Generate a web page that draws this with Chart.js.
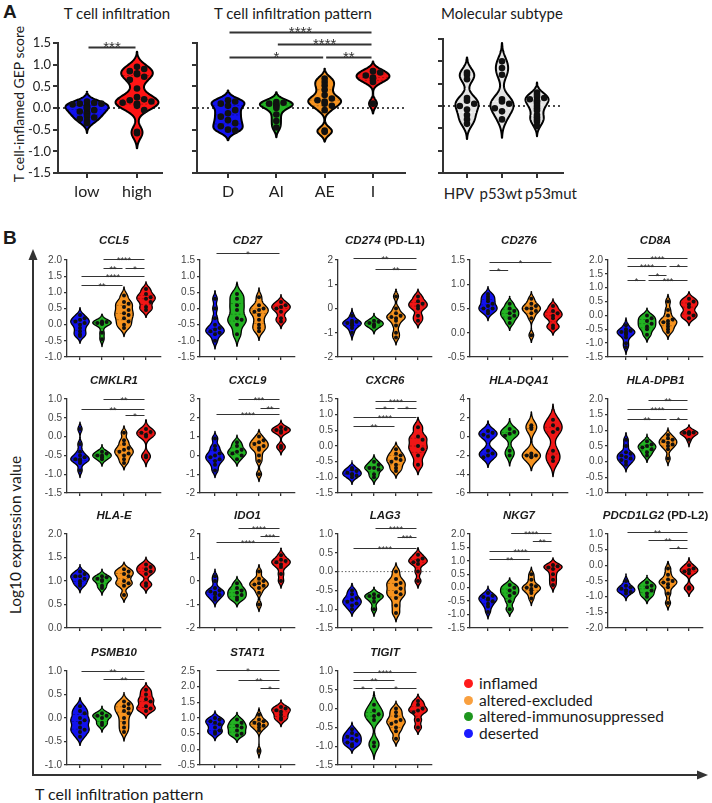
<!DOCTYPE html>
<html>
<head>
<meta charset="utf-8">
<title>T cell infiltration violins</title>
<script src="https://cdn.jsdelivr.net/npm/chart.js@4.4.1/dist/chart.umd.min.js"></script>
<style>
  html, body { margin: 0; padding: 0; background: #fff; }
  body { position: relative; width: 712px; height: 803px; overflow: hidden; font-family: Lato, "Open Sans", sans-serif; color: #1a1a1a; }
  canvas { position: absolute; }
  .lbl { position: absolute; white-space: nowrap; }
  .panel { font-family: "Liberation Sans", Arial, sans-serif; font-weight: bold; font-size: 19px; }
  .head { font-size: 15px; transform: translate(-50%, -50%); }
  .cat { font-size: 15px; color: #222; transform: translate(-50%, -50%); }
  .gene { font-family: "Liberation Sans", Arial, sans-serif; font-weight: bold; font-size: 11.5px; transform: translate(-50%, -50%); }
  .rot { transform: translate(-50%, -50%) rotate(-90deg); }
  .legend { position: absolute; left: 464px; top: 675px; font-size: 15.5px; line-height: 16.7px; }
  .legend span { display: inline-block; width: 9px; height: 9px; border-radius: 50%; margin-right: 6px; vertical-align: 1px; }
</style>
</head>
<body>
<svg width="712" height="803" style="position:absolute;left:0;top:0">
  <line x1="33" y1="776" x2="33" y2="258" stroke="#333" stroke-width="2"/>
  <polygon points="33,249 28.5,260 37.5,260" fill="#333"/>
  <line x1="32" y1="775" x2="699" y2="775" stroke="#333" stroke-width="2"/>
  <polygon points="708,775 697,770.5 697,779.5" fill="#333"/>
</svg>

<div class="lbl panel" style="left:3px;top:1px">A</div>
<div class="lbl panel" style="left:3px;top:227px">B</div>
<div class="lbl head" style="left:117px;top:13px">T cell infiltration</div>
<div class="lbl head" style="left:293px;top:13px">T cell infiltration pattern</div>
<div class="lbl head" style="left:502px;top:13px">Molecular subtype</div>
<div class="lbl rot" style="left:18px;top:104px;font-size:14px">T cell-inflamed GEP score</div>
<div class="lbl rot" style="left:15px;top:535px;font-size:15.5px">Log10 expression value</div>
<div class="lbl" style="left:35px;top:784px;font-size:16px">T cell infiltration pattern</div>
<div class="lbl cat" style="left:459px;top:193px">HPV</div>
<div class="lbl cat" style="left:501px;top:193px">p53wt</div>
<div class="lbl cat" style="left:551px;top:193px">p53mut</div>

<div class="legend">
  <div><span style="background:#ff1a1a"></span>inflamed</div>
  <div><span style="background:#f9a03f"></span>altered-excluded</div>
  <div><span style="background:#1e961e"></span>altered-immunosuppressed</div>
  <div><span style="background:#1a1aff"></span>deserted</div>
</div>

<script>
// ---- panel A data: T cell-inflamed GEP score ----
const infiltrationLabels = ['low', 'high'];
const gepLow = [0.15, 0.12, 0.1, 0.1, 0.08, 0.05, 0.05, 0.02, 0.0, -0.02, -0.05, -0.08, -0.1, -0.12, -0.15, -0.2, -0.22, -0.25, -0.3, -0.35];
const gepHigh = [0.95, 0.9, 0.85, 0.8, 0.78, 0.72, 0.65, 0.45, 0.25, 0.2, 0.18, 0.15, 0.12, 0.1, 0.08, 0.05, -0.05, -0.55, -0.58];
const sigInfiltration = [[0, 1, 1.41, '***']];

const patternLabels = ['D', 'AI', 'AE', 'I'];
const gepD = [0.18, 0.15, 0.1, 0.05, -0.05, -0.12, -0.2, -0.28, -0.35, -0.42, -0.5, -0.52];
const gepAI = [0.14, 0.12, 0.1, 0.08, 0.05, 0.0, -0.15, -0.3, -0.45];
const gepAE = [0.68, 0.6, 0.52, 0.42, 0.3, 0.22, 0.18, 0.15, 0.1, 0.05, -0.05, -0.52, -0.55];
const gepI = [0.85, 0.82, 0.75, 0.7, 0.68, 0.6, 0.1];
const sigPattern = [[0, 3, 1.75, '****'], [1, 3, 1.48, '****'], [0, 2, 1.18, '*'], [2, 3, 1.18, '**']];

const subtypeLabels = ['HPV', 'p53wt', 'p53mut'];
const gepHPV = [0.75, 0.7, 0.6, 0.18, 0.12, 0.05, 0.0, -0.08, -0.2, -0.3, -0.4];
const gepP53wt = [1.0, 0.85, 0.7, 0.15, 0.1, 0.05, -0.05, -0.12, -0.3];
const gepP53mut = [0.3, 0.25, 0.2, 0.18, 0.15, 0.12, 0.1, 0.05, 0.0, -0.05, -0.1, -0.2, -0.25, -0.3, -0.35, -0.45];

// ---- panel B data: log10 expression per pattern [D, AI, AE, I] ----
const CCL5 = [[0.3, 0.2, 0.15, 0.1, 0.05, 0.0, -0.1, -0.2, -0.3, -0.35], [0.1, 0.08, 0.05, 0.05, 0.02, -0.25, -0.45], [0.9, 0.7, 0.65, 0.55, 0.45, 0.35, 0.3, 0.2, 0.1, 0.0, -0.1], [1.1, 0.95, 0.85, 0.8, 0.7, 0.55, 0.45]];
const CD27 = [[0.3, 0.0, -0.3, -0.5, -0.6, -0.65, -0.7, -0.75, -0.8, -1.0], [0.45, 0.3, 0.1, -0.05, -0.3, -0.35, -0.5, -0.8], [0.35, 0.1, 0.0, -0.05, -0.1, -0.2, -0.35, -0.5, -0.6, -0.7], [0.2, 0.1, 0.05, 0.0, -0.1, -0.3, -0.4]];
const CD274 = [[-0.3, -0.5, -0.55, -0.6, -0.6, -0.65, -0.7, -0.8, -1.0], [-0.5, -0.55, -0.6, -0.65, -0.7, -0.75], [0.5, 0.0, -0.2, -0.3, -0.35, -0.4, -0.5, -0.7, -1.0, -1.2], [0.5, 0.3, 0.2, 0.1, 0.0, -0.3, -0.5]];
const CD276 = [[0.8, 0.75, 0.7, 0.65, 0.6, 0.55, 0.5, 0.5, 0.45, 0.4], [0.6, 0.5, 0.45, 0.4, 0.35, 0.3, 0.2], [0.7, 0.6, 0.55, 0.5, 0.5, 0.45, 0.4, 0.3, -0.05], [0.55, 0.45, 0.4, 0.35, 0.3, 0.15, 0.1]];
const CD8A = [[-0.35, -0.5, -0.55, -0.6, -0.6, -0.65, -0.7, -0.8, -1.0, -1.15], [0.0, -0.1, -0.2, -0.3, -0.4, -0.5, -0.7], [0.5, 0.2, 0.0, -0.15, -0.2, -0.25, -0.3, -0.4, -0.5, -0.6], [0.6, 0.5, 0.4, 0.3, 0.1, 0.0, -0.1]];
const CMKLR1 = [[0.2, -0.2, -0.4, -0.5, -0.55, -0.6, -0.6, -0.65, -0.7, -0.9], [-0.4, -0.45, -0.5, -0.5, -0.55, -0.6], [0.1, -0.1, -0.2, -0.3, -0.35, -0.4, -0.45, -0.5, -0.6, -0.7], [0.2, 0.12, 0.1, 0.05, 0.0, -0.5, -0.55]];
const CXCL9 = [[0.9, 0.5, 0.3, 0.1, 0.0, -0.1, -0.2, -0.3, -0.5, -0.8], [0.7, 0.5, 0.3, 0.2, 0.1, 0.0, -0.2], [1.0, 0.8, 0.7, 0.6, 0.5, 0.4, 0.3, 0.0, -0.3, -1.0], [1.5, 1.4, 1.35, 1.3, 1.2, 0.5, 0.4]];
const CXCR6 = [[-0.7, -0.75, -0.8, -0.85, -0.9, -0.9, -0.95, -1.0], [-0.5, -0.6, -0.7, -0.7, -0.75, -0.9, -1.0], [-0.1, -0.25, -0.3, -0.4, -0.45, -0.5, -0.6, -0.7, -0.8], [0.6, 0.3, 0.2, 0.0, -0.1, -0.3, -0.6]];
const HLA_DQA1 = [[0.6, 0.4, 0.2, 0.0, -1.5, -1.8, -2.0, -2.2], [0.8, 0.5, 0.3, 0.1, -1.5, -2.0], [1.2, 1.0, 0.8, -1.8, -2.0, -2.1, -2.2, -2.0], [1.8, 1.2, 0.8, 0.5, -1.5, -2.2, -2.6]];
const HLA_DPB1 = [[0.7, 0.5, 0.3, 0.25, 0.2, 0.15, 0.1, 0.05, 0.0, -0.1], [0.65, 0.55, 0.5, 0.45, 0.4, 0.3, 0.2], [0.85, 0.75, 0.7, 0.65, 0.6, 0.55, 0.5, 0.4, 0.1], [0.95, 0.93, 0.92, 0.9, 0.88, 0.7]];
const HLA_E = [[1.2, 1.15, 1.1, 1.1, 1.05, 1.0, 0.95, 0.9], [1.1, 1.08, 1.05, 1.02, 1.0, 0.9, 0.85], [1.25, 1.2, 1.15, 1.1, 1.0, 0.95, 0.9, 0.7], [1.35, 1.3, 1.25, 1.2, 1.15, 0.95, 0.9]];
const IDO1 = [[0.2, 0.0, -0.3, -0.4, -0.45, -0.5, -0.55, -0.6, -0.7, -0.8], [-0.1, -0.3, -0.4, -0.5, -0.6, -0.7, -0.8], [0.4, 0.1, 0.0, -0.1, -0.15, -0.2, -0.3, -0.5, -1.0], [1.1, 0.9, 0.85, 0.8, 0.7, 0.6, 0.3, 0.0]];
const LAG3 = [[-0.5, -0.6, -0.7, -0.75, -0.8, -0.85, -0.9, -1.0], [-0.6, -0.65, -0.65, -0.7, -0.8, -1.0], [0.0, -0.2, -0.3, -0.35, -0.45, -0.55, -0.6, -0.7, -0.9, -1.1], [0.45, 0.35, 0.3, 0.25, 0.2, 0.0, -0.25]];
const NKG7 = [[-0.2, -0.3, -0.35, -0.4, -0.45, -0.5, -0.6, -0.7, -0.9], [0.1, 0.0, -0.1, -0.2, -0.3, -0.5, -0.8], [0.5, 0.3, 0.1, 0.05, 0.0, -0.05, -0.1, -0.2, -0.4], [0.85, 0.8, 0.75, 0.7, 0.5, 0.3, 0.1]];
const PDCD1LG2 = [[-0.5, -0.65, -0.7, -0.75, -0.8, -0.8, -0.85, -0.9], [-0.55, -0.65, -0.7, -0.8, -0.9, -1.0], [-0.1, -0.3, -0.45, -0.5, -0.55, -0.6, -0.7, -0.9, -1.2], [0.0, -0.1, -0.15, -0.2, -0.25, -0.7, -0.75]];
const PSMB10 = [[0.25, 0.15, 0.1, 0.0, -0.05, -0.1, -0.2, -0.25, -0.3, -0.4], [0.1, 0.05, 0.05, 0.0, -0.1, -0.15], [0.35, 0.3, 0.25, 0.2, 0.15, 0.1, 0.0, -0.1, -0.2, -0.3], [0.6, 0.5, 0.4, 0.35, 0.25, 0.2, 0.15]];
const STAT1 = [[1.0, 0.95, 0.9, 0.85, 0.8, 0.7, 0.6, 0.55, 0.5], [0.95, 0.85, 0.75, 0.7, 0.6, 0.5, 0.45], [1.1, 0.95, 0.9, 0.85, 0.8, 0.8, 0.75, 0.7, 0.6, -0.05], [1.35, 1.3, 1.25, 1.2, 1.1, 1.0, 0.95]];
const TIGIT = [[-0.55, -0.65, -0.7, -0.75, -0.8, -0.85, -0.9, -0.95, -1.0], [0.1, -0.05, -0.15, -0.2, -0.3, -0.9, -1.0], [0.0, -0.1, -0.2, -0.3, -0.35, -0.4, -0.5, -0.6, -0.8], [0.2, 0.1, 0.0, -0.05, -0.1, -0.3, -0.5]];

// significance brackets: [from group, to group, height, stars]
const sigCCL5 = [[1, 3, 2.03, '****'], [1, 2, 1.76, '**'], [2, 3, 1.76, '*'], [0, 3, 1.52, '****'], [0, 2, 1.24, '**']];
const sigCD27 = [[0, 3, 1.72, '*']];
const sigCD274 = [[0, 3, 2.08, '**'], [1, 3, 1.63, '**']];
const sigCD276 = [[0, 3, 1.46, '*'], [0, 1, 1.29, '*']];
const sigCD8A = [[0, 3, 2.06, '****'], [0, 2, 1.77, '****'], [2, 3, 1.77, '*'], [1, 2, 1.45, '*'], [0, 1, 1.27, '*'], [1, 3, 1.27, '***']];
const sigCMKLR1 = [[1, 3, 1.0, '**'], [0, 3, 0.73, '**'], [2, 3, 0.57, '*']];
const sigCXCL9 = [[1, 3, 3.0, '***'], [2, 3, 2.5, '**'], [0, 3, 2.2, '****']];
const sigCXCR6 = [[1, 3, 1.44, '****'], [1, 2, 1.21, '*'], [2, 3, 1.21, '*'], [0, 3, 0.93, '****'], [0, 2, 0.64, '**']];
const sigHLA_DPB1 = [[1, 3, 1.97, '**'], [0, 3, 1.68, '****'], [0, 2, 1.35, '**'], [2, 3, 1.35, '*']];
const sigIDO1 = [[1, 3, 2.25, '****'], [2, 3, 1.9, '***'], [0, 3, 1.65, '****']];
const sigLAG3 = [[1, 3, 1.16, '****'], [2, 3, 0.92, '***'], [0, 3, 0.64, '****']];
const sigNKG7 = [[1, 3, 2.03, '****'], [2, 3, 1.74, '**'], [0, 3, 1.37, '****'], [0, 2, 1.07, '**']];
const sigPDCD1LG2 = [[0, 3, 1.06, '**'], [1, 3, 0.8, '**'], [2, 3, 0.55, '*']];
const sigPSMB10 = [[0, 3, 1.0, '**'], [1, 3, 0.82, '**']];
const sigSTAT1 = [[0, 3, 2.52, '*'], [1, 3, 2.22, '**'], [2, 3, 1.95, '*']];
const sigTIGIT = [[0, 3, 0.97, '****'], [0, 2, 0.75, '**'], [0, 1, 0.55, '*'], [1, 3, 0.55, '*']];

const geneNames = ['CCL5', 'CD27', 'CD274', 'CD276', 'CD8A', 'CMKLR1', 'CXCL9', 'CXCR6', 'HLA-DQA1', 'HLA-DPB1', 'HLA-E', 'IDO1', 'LAG3', 'NKG7', 'PDCD1LG2', 'PSMB10', 'STAT1', 'TIGIT'];
const geneAlias = ['', '', ' (PD-L1)', '', '', '', '', '', '', '', '', '', '', '', ' (PD-L2)', '', '', ''];
const geneValues = [CCL5, CD27, CD274, CD276, CD8A, CMKLR1, CXCL9, CXCR6, HLA_DQA1, HLA_DPB1, HLA_E, IDO1, LAG3, NKG7, PDCD1LG2, PSMB10, STAT1, TIGIT];
const geneSig = [sigCCL5, sigCD27, sigCD274, sigCD276, sigCD8A, sigCMKLR1, sigCXCL9, sigCXCR6, [], sigHLA_DPB1, [], sigIDO1, sigLAG3, sigNKG7, sigPDCD1LG2, sigPSMB10, sigSTAT1, sigTIGIT];
const yMin = [-1, -1.5, -2, -0.5, -1.5, -1.5, -2, -1.5, -6, -1, 0, -2, -1.5, -1.5, -2, -1, -0.5, -1.5];
const yMax = [2, 1.5, 2, 1.5, 2, 1, 3, 1.5, 4, 2, 2, 2, 1, 2, 1, 1, 2.5, 1];
const yStep = [0.5, 0.5, 1, 0.5, 0.5, 0.5, 1, 0.5, 2, 0.5, 0.5, 1, 0.5, 0.5, 0.5, 0.5, 0.5, 0.5];

const patternColors = ['#1212ee', '#23b323', '#f6931f', '#f01616'];
const subtypeColor = '#e4e4e4';

// ---- layout of the panel B grid (pixels) ----
const colAxis = [67, 200, 338, 470, 608];
const colCat0 = [80, 215, 352, 488, 626];
const colCatN = [146, 281, 418, 553, 689];
const colEnd = [161, 295, 432, 568, 703];
const rowTop = [260, 399, 534, 671];
const rowBottom = [357, 493, 628, 765];
const rowTitle = [240, 380, 515, 652];

Chart.defaults.color = '#222';

function quant(s, p) {
  const idx = (s.length - 1) * p, lo = Math.floor(idx), hi = Math.ceil(idx);
  return s[lo] + (s[hi] - s[lo]) * (idx - lo);
}

// kernel density outline for one violin
function violinShape(vals, yRange) {
  const s = [...vals].sort((a, b) => a - b);
  const n = s.length;
  const mean = s.reduce((a, b) => a + b, 0) / n;
  const sd = Math.sqrt(s.reduce((a, b) => a + (b - mean) ** 2, 0) / Math.max(n - 1, 1));
  const iqr = quant(s, 0.75) - quant(s, 0.25);
  const spread = iqr > 0 ? Math.min(sd, iqr / 1.34) : sd;
  const h = Math.max(0.55 * spread * Math.pow(n, -0.2), yRange * 0.03);
  const lo = s[0] - 2.5 * h, hi = s[n - 1] + 2.5 * h;
  const ys = [], ds = [];
  for (let k = 0; k <= 90; k++) {
    const y = lo + (hi - lo) * k / 90;
    let d = 0;
    s.forEach(v => { d += Math.exp(-0.5 * ((y - v) / h) ** 2); });
    ys.push(y); ds.push(d);
  }
  const m = Math.max(...ds);
  return { ys, ws: ds.map(d => d / m), q1: quant(s, 0.25), med: quant(s, 0.5), q3: quant(s, 0.75) };
}

function widthAt(sh, v) {
  const ys = sh.ys;
  if (v <= ys[0] || v >= ys[ys.length - 1]) return 0;
  const t = (v - ys[0]) / (ys[1] - ys[0]);
  const k = Math.floor(t), f = t - k;
  return sh.ws[k] * (1 - f) + sh.ws[k + 1] * f;
}

// place the dots side by side inside the violin so they don't pile up
function spreadPoints(vals, sh, gi, maxHalf, pxX, pxY, r) {
  const placed = [], out = [];
  const order = vals.map((v, k) => k).sort((a, b) => vals[b] - vals[a]);
  order.forEach(k => {
    const v = vals[k];
    const lim = Math.max(0, widthAt(sh, v) * maxHalf * pxX - r - 0.5);
    const cands = [0];
    for (let j = 1; j < 8; j++) { cands.push(j * (2 * r + 0.6)); cands.push(-j * (2 * r + 0.6)); }
    let best = 0;
    for (const c of cands) {
      if (c !== 0 && Math.abs(c) > lim) continue;
      if (placed.every(p => Math.hypot(p.dx - c, (p.v - v) * pxY) >= 2 * r + 0.2)) { best = c; break; }
    }
    placed.push({ dx: best, v });
    out.push({ x: gi + best / pxX, y: v });
  });
  return out;
}

function addChart(s) {
  const nG = s.groups.length;
  const sp = (s.catN - s.cat0) / (nG - 1);
  const xMin = -(s.cat0 - s.axisX) / sp;
  const xMax = (nG - 1) + (s.end - s.catN) / sp;
  const plotW = s.end - s.axisX, plotH = s.bottom - s.top;
  const pxY = plotH / (s.yMax - s.yMin);
  const W = s.yAxisW + plotW + s.padRight, H = s.padTop + plotH + s.xAxisH;

  const cv = document.createElement('canvas');
  cv.width = W; cv.height = H;
  cv.style.left = (s.axisX - s.yAxisW) + 'px';
  cv.style.top = (s.top - s.padTop) + 'px';
  cv.style.width = W + 'px'; cv.style.height = H + 'px';
  document.body.appendChild(cv);

  const shapes = s.groups.map(g => violinShape(g, s.yMax - s.yMin));
  const points = [];
  s.groups.forEach((g, i) => points.push(...spreadPoints(g, shapes[i], i, s.maxHalf, sp, pxY, s.r)));

  const violins = {
    id: 'violins',
    beforeDatasetsDraw(chart) {
      const { ctx, scales: { x, y } } = chart;
      ctx.save();
      if (s.zeroLine) {
        ctx.setLineDash(s.zeroDash);
        ctx.strokeStyle = s.zeroColor; ctx.lineWidth = s.zeroLW;
        ctx.beginPath();
        ctx.moveTo(x.left, y.getPixelForValue(0)); ctx.lineTo(x.right, y.getPixelForValue(0));
        ctx.stroke();
        ctx.setLineDash([]);
      }
      shapes.forEach((sh, i) => {
        const cx = x.getPixelForValue(i);
        const half = x.getPixelForValue(i + s.maxHalf) - cx;
        ctx.beginPath();
        sh.ys.forEach((v, k) => {
          const px = cx + sh.ws[k] * half, py = y.getPixelForValue(v);
          if (k) ctx.lineTo(px, py); else ctx.moveTo(px, py);
        });
        for (let k = sh.ys.length - 1; k >= 0; k--) ctx.lineTo(cx - sh.ws[k] * half, y.getPixelForValue(sh.ys[k]));
        ctx.closePath();
        ctx.fillStyle = s.colors[i];
        ctx.fill();
        ctx.lineJoin = 'round';
        ctx.lineWidth = s.lw; ctx.strokeStyle = '#000';
        ctx.stroke();
        ctx.setLineDash([2, 2]);
        ctx.lineWidth = 0.8; ctx.strokeStyle = s.qColor;
        [sh.q1, sh.med, sh.q3].forEach(q => {
          const w = widthAt(sh, q) * half - 1, py = y.getPixelForValue(q);
          ctx.beginPath(); ctx.moveTo(cx - w, py); ctx.lineTo(cx + w, py); ctx.stroke();
        });
        ctx.setLineDash([]);
      });
      ctx.restore();
    },
    afterDraw(chart) {
      const { ctx, scales: { x, y } } = chart;
      ctx.save();
      ctx.strokeStyle = '#333'; ctx.fillStyle = '#333';
      ctx.lineWidth = s.sigLW;
      ctx.font = s.sigFont; ctx.textAlign = 'center'; ctx.textBaseline = 'alphabetic';
      s.sig.forEach(([a, b, v, t]) => {
        const x1 = x.getPixelForValue(a) + 1.5, x2 = x.getPixelForValue(b) - 1.5, py = Math.round(y.getPixelForValue(v)) + 0.5;
        ctx.beginPath(); ctx.moveTo(x1, py); ctx.lineTo(x2, py); ctx.stroke();
        ctx.fillText(t, (x1 + x2) / 2, py + s.sigDy);
      });
      ctx.restore();
    }
  };

  const dec = s.yStep < 1 ? 1 : 0;
  new Chart(cv, {
    type: 'scatter',
    data: {
      datasets: [{
        data: points,
        pointRadius: s.r, pointHoverRadius: s.r,
        pointBackgroundColor: '#111', pointBorderWidth: 0,
        clip: false
      }]
    },
    options: {
      responsive: false, animation: false, events: [],
      layout: { padding: { top: s.padTop, right: s.padRight, left: 0, bottom: 0 } },
      plugins: { legend: { display: false }, tooltip: { enabled: false } },
      scales: {
        x: {
          type: 'linear', min: xMin, max: xMax,
          afterBuildTicks: ax => { ax.ticks = s.groups.map((g, i) => ({ value: i })); },
          afterFit: ax => { ax.height = s.xAxisH; },
          border: { color: '#333', width: s.axisLW },
          grid: { drawOnChartArea: false, color: '#333', tickLength: s.tickLen, lineWidth: s.axisLW },
          ticks: {
            autoSkip: false, maxRotation: 0, padding: s.xPad,
            font: s.xFont, color: '#222',
            callback: v => s.labels ? s.labels[Math.round(v)] : ''
          }
        },
        y: {
          min: s.yMin, max: s.yMax,
          afterFit: ax => { ax.width = s.yAxisW; },
          border: { color: '#333', width: s.axisLW },
          grid: { drawOnChartArea: false, color: '#333', tickLength: s.tickLen, lineWidth: s.axisLW },
          ticks: {
            stepSize: s.yStep, autoSkip: false, padding: s.yPad,
            font: s.yFont, color: s.yColor,
            callback: v => s.yLabels ? (Math.abs(v) < 1e-9 ? 0 : v).toFixed(dec) : ''
          }
        }
      }
    },
    plugins: [violins]
  });
}

// ---- panel A ----
const aCommon = {
  yMin: -1.5, yMax: 1.5, yStep: 0.5, bottom: 173, padRight: 12, xAxisH: 34,
  zeroLine: true, zeroDash: [2, 3], zeroColor: '#111', zeroLW: 1.3,
  maxHalf: 0.43, lw: 2, r: 3.3, qColor: 'rgba(0,0,0,0.35)',
  sig: [], sigLW: 2, sigFont: '15px "Liberation Sans", Arial', sigDy: 4.5,
  axisLW: 2, tickLen: 5, xPad: 4, yPad: 2,
  xFont: { family: 'Lato', size: 16 }, yFont: { family: 'Lato', size: 13 }, yColor: '#222'
};
addChart(Object.assign({}, aCommon, {
  axisX: 58, top: 43, cat0: 87, catN: 137, end: 162, yAxisW: 44, padTop: 20,
  labels: infiltrationLabels, groups: [gepLow, gepHigh], colors: ['#1212ee', '#ff1414'],
  yLabels: true, sig: sigInfiltration
}));
addChart(Object.assign({}, aCommon, {
  axisX: 197, top: 43, cat0: 228, catN: 373, end: 405, yAxisW: 12, padTop: 40,
  labels: patternLabels, groups: [gepD, gepAI, gepAE, gepI], colors: patternColors,
  yLabels: false, sig: sigPattern, maxHalf: 0.34
}));
// category names of this chart sit off-centre in the original, so they are placed as text above
addChart(Object.assign({}, aCommon, {
  axisX: 443, top: 39, cat0: 467, catN: 537, end: 563, yAxisW: 12, padTop: 20,
  labels: null, groups: [gepHPV, gepP53wt, gepP53mut], colors: [subtypeColor, subtypeColor, subtypeColor],
  yLabels: false, maxHalf: 0.33, qColor: 'rgba(255,255,255,0.9)'
}));

// ---- panel B ----
geneNames.forEach((name, gi) => {
  const row = Math.floor(gi / 5), col = gi % 5;
  addChart({
    axisX: colAxis[col], top: rowTop[row], bottom: rowBottom[row],
    cat0: colCat0[col], catN: colCatN[col], end: colEnd[col],
    yAxisW: 42, padTop: 24, padRight: 8, xAxisH: 12,
    labels: null, groups: geneValues[gi], colors: patternColors,
    yMin: yMin[gi], yMax: yMax[gi], yStep: yStep[gi], yLabels: true,
    zeroLine: name === 'LAG3', zeroDash: [1.5, 2], zeroColor: '#666', zeroLW: 1,
    maxHalf: 0.42, lw: 1.3, r: 2, qColor: 'rgba(0,0,0,0.35)',
    sig: geneSig[gi], sigLW: 1, sigFont: '9px "Liberation Sans", Arial', sigDy: 3,
    axisLW: 1.3, tickLen: 3, xPad: 0, yPad: 2,
    xFont: { family: 'Liberation Sans', size: 10 }, yFont: { family: 'Liberation Sans', size: 10 }, yColor: '#444'
  });
  const t = document.createElement('div');
  t.className = 'lbl gene';
  t.style.left = ((colAxis[col] + colEnd[col]) / 2) + 'px';
  t.style.top = rowTitle[row] + 'px';
  const it = document.createElement('i');
  it.textContent = name;
  t.appendChild(it);
  if (geneAlias[gi]) t.appendChild(document.createTextNode(geneAlias[gi]));
  document.body.appendChild(t);
});
</script>
</body>
</html>
